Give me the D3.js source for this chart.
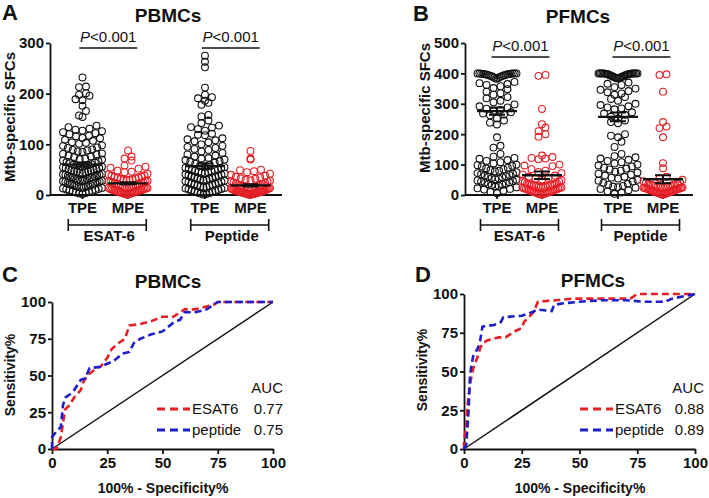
<!DOCTYPE html>
<html><head><meta charset="utf-8">
<script src="https://cdn.jsdelivr.net/npm/d3@7"></script>
<style>
body{margin:0;background:#fff;}
svg{display:block;font-family:"Liberation Sans",Arial,Helvetica,sans-serif;}
</style></head><body>
<svg id="chart" width="709" height="498"></svg>
<script>
// ---------- DATA ----------
const categories = ["TPE","MPE","TPE","MPE"];
const groupLabels = ["ESAT-6","Peptide"];
const pLabel = "<0.001";
const pbmcTicks = [0,100,200,300];
const pfmcTicks = [0,100,200,300,400,500];
const rocTicks = [0,25,50,75,100];

const pbmcTpeEsat = [232,214,213,201,198,196,189,187,176,166,157,154,137,134,131,129,127,126,124,122,120,117,116,113,112,109,107,104,103,101,98,97,94,93,90,89,88,86,85,82,81,80,78,76,75,72,71,70,68,67,65,64,63,61,60,59,58,57,57,56,55,53,53,52,51,50,49,48,47,47,46,45,44,43,42,41,40,40,39,38,37,36,35,35,34,33,32,31,30,30,29,28,27,26,26,25,24,23,22,22,21,20,19,18,18,17,16,15,15,14,13,12,11,10,9,8,7,6,5,4,3,2];
const pbmcMpeEsat = [88,76,72,68,58,56,54,52,48,46,45,42,41,39,38,37,36,35,34,33,32,31,30,30,29,28,27,27,26,25,25,24,23,22,22,21,20,20,19,18,18,17,16,16,15,14,14,13,12,12,11,11,10,10,9,9,8,8,7,7,6,6,5,5,4,4,3,3,2,2,1,1];
const pbmcTpePep = [275,263,252,212,198,193,191,186,182,178,158,155,147,142,137,134,133,130,127,121,119,118,112,110,108,106,104,100,97,95,93,91,89,86,83,80,78,76,73,72,70,69,67,66,64,62,60,58,57,55,54,53,52,51,50,49,48,47,46,45,44,43,42,41,40,39,38,37,36,35,34,33,32,31,30,29,28,27,26,25,24,23,22,21,20,19,18,17,16,15,14,13,12,11,10,9,8,7,6,5,4,3,2,1];
const pbmcMpePep = [87,72,70,50,49,47,45,42,40,38,36,35,33,32,30,29,28,27,26,25,24,23,22,21,20,19,19,18,17,17,16,15,15,14,13,13,12,12,11,11,10,10,9,9,8,8,7,7,7,6,6,6,5,5,5,4,4,4,3,3,3,2,2,2,1,1,1,1];

const pfmcTpeEsat = [400,400,400,400,400,399,399,398,398,397,397,396,395,394,393,392,391,390,388,386,384,382,372,368,365,362,358,352,348,340,335,330,322,318,310,305,298,292,288,284,280,276,272,268,265,262,252,245,238,232,190,162,156,135,126,122,119,115,112,108,104,100,98,96,94,90,88,85,82,80,78,75,72,70,68,66,64,62,60,58,56,54,52,50,48,46,44,42,40,38,36,34,32,30,28,25,22,20,18,14,10,6];
const pfmcMpeEsat = [395,392,283,233,222,210,200,192,130,125,122,120,118,100,97,95,85,80,76,72,68,64,60,57,54,51,48,46,44,42,40,38,37,36,35,34,33,32,31,30,29,28,27,26,25,24,23,22,21,20,19,18,17,16,15,14,13,12,11,10,9,8,7,6,5,4,3,2,1];
const pfmcTpePep = [400,400,400,400,400,400,400,400,400,400,399,399,398,398,397,397,396,395,394,393,392,391,390,389,388,387,386,385,384,383,370,366,362,355,350,346,342,338,334,330,322,316,310,300,296,292,288,285,282,272,268,264,258,252,245,240,236,200,195,190,175,158,135,128,124,120,116,112,108,104,100,97,94,90,87,84,80,77,74,70,67,64,60,57,54,50,47,44,40,37,34,30,28,26,24,20,16,12,8,4];
const pfmcMpePep = [397,395,340,240,225,220,190,105,88,60,55,50,45,42,40,38,36,35,34,33,32,31,30,30,29,28,27,26,25,24,24,23,22,21,20,20,19,18,17,16,15,15,14,13,12,11,10,10,9,8,7,6,5,5,4,3,2,1];

const pbmcMeans = [60,23,57,19];
const pbmcSems = [4,2,5,2];
const pfmcMeans = [276,65,257,52];
const pfmcSems = [12,12,14,13];

const rocPbmcEsat = [[0,0],[2,0],[4,8],[5,18],[6,27],[8,30],[10,35],[13,40],[14,45],[16,50],[20,55],[22,56],[25,62],[27,68],[30,72],[33,75],[35,84],[40,85],[45,87],[50,90],[55,90],[57,92],[60,95],[65,95],[70,97],[73,98],[75,100],[100,100]];
const rocPbmcPep = [[0,0],[0,8],[2,12],[4,15],[5,30],[6,35],[8,37],[10,40],[13,47],[15,48],[17,55],[22,56],[25,58],[28,60],[32,65],[35,66],[37,72],[40,75],[45,78],[50,80],[55,86],[58,88],[60,93],[65,93],[70,95],[72,97],[75,100],[100,100]];
const rocPfmcEsat = [[0,0],[0,5],[1,15],[1.5,27],[2,35],[3,45],[4,52],[6,60],[7,65],[8,68],[10,70],[15,72],[18,72],[22,76],[25,78],[26,82],[28,85],[30,88],[32,95],[40,96],[47,97],[72,97],[75,100],[100,100]];
const rocPfmcPep = [[0,0],[1,3],[2,25],[2.5,45],[3,52],[4,60],[6,65],[7,70],[8,79],[13,80],[16,82],[17,85],[25,86],[27,87],[29,88],[32,90],[38,89],[39,93],[43,94],[50,95],[60,96],[70,96],[78,95],[87,95],[90,97],[100,100]];
const aucNames = ["ESAT6","peptide"];
const aucPbmc = ["0.77","0.75"];
const aucPfmc = ["0.88","0.89"];

// ---------- DRAW ----------
const RED = "#e41f26", BLUE = "#1d1dcc", BLK = "#111";
const svg = d3.select("#chart");

function swarm(values, binSize, maxHalf, dia){
  const bins = d3.group(values, v => Math.ceil(v / binSize));
  const out = [];
  for (const [, arr] of bins){
    const s = arr.slice().sort((a,b)=>a-b);
    const n = s.length;
    const sp = n > 1 ? Math.min(dia, 2*maxHalf/(n-1)) : 0;
    const offs = d3.range(n).map(i => (i-(n-1)/2)*sp);
    offs.sort((a,b)=> Math.abs(a)-Math.abs(b) || a-b);
    s.forEach((v,i)=> out.push({v, dx: offs[i]}));
  }
  return out;
}

function scatterPanel(o){
  const g = svg.append("g");
  const y = d3.scaleLinear().domain([0, o.ticks[o.ticks.length-1]]).range([195, 43]);
  const slots = [0,1,2.69,3.69];
  const x = d3.scaleLinear().domain([0,3.69]).range(o.xr);
  const ax = g.append("g").attr("transform",`translate(${o.ax},0)`)
    .call(d3.axisLeft(y).tickValues(o.ticks).tickSize(4).tickSizeOuter(0).tickPadding(2));
  ax.select(".domain").attr("stroke",BLK).attr("stroke-width",1.8);
  ax.selectAll(".tick line").attr("stroke",BLK).attr("stroke-width",1.8);
  ax.selectAll(".tick text").attr("font-size",15).attr("font-weight","bold").attr("fill",BLK)
    .attr("font-family","Liberation Sans, Arial, sans-serif");
  g.append("line").attr("x1",o.ax).attr("x2",o.axEnd).attr("y1",y(0)).attr("y2",y(0))
    .attr("stroke",BLK).attr("stroke-width",1.8);
  g.selectAll(".xt").data(categories).join("line")
    .attr("x1",(d,i)=>x(slots[i])).attr("x2",(d,i)=>x(slots[i]))
    .attr("y1",y(0)).attr("y2",y(0)+4).attr("stroke",BLK).attr("stroke-width",1.8);
  g.selectAll(".xl").data(categories).join("text")
    .attr("x",(d,i)=>x(slots[i])).attr("y",213).attr("text-anchor","middle")
    .attr("font-size",15).attr("font-weight","bold").attr("fill",BLK).text(d=>d);
  groupLabels.forEach((lab,gi)=>{
    const c = (x(slots[gi*2]) + x(slots[gi*2+1]))/2 + o.bShift;
    g.append("path").attr("d",`M${c-39},219V231M${c-39},225H${c+39}M${c+39},219V231`)
      .attr("stroke",BLK).attr("stroke-width",1.6).attr("fill","none");
    g.append("text").attr("x",c+o.gShift).attr("y",241).attr("text-anchor","middle")
      .attr("font-size",15).attr("font-weight","bold").attr("fill",BLK).text(lab);
    const pc = c + 1;
    g.append("line").attr("x1",pc-29).attr("x2",pc+29).attr("y1",o.pLine).attr("y2",o.pLine)
      .attr("stroke",BLK).attr("stroke-width",1.6);
    const t = g.append("text").attr("x",pc).attr("y",o.pLine-6).attr("text-anchor","middle")
      .attr("font-size",15).attr("fill",BLK);
    t.append("tspan").attr("font-style","italic").text("P");
    t.append("tspan").text(pLabel);
  });
  o.series.forEach((vals,i)=>{
    const col = i%2===0 ? BLK : RED;
    const pts = swarm(vals, o.bin, 19.5, 7);
    g.append("g").selectAll("circle").data(pts).join("circle")
      .attr("cx",d=>x(slots[i])+d.dx).attr("cy",d=>y(d.v)).attr("r",3.4)
      .attr("fill","none").attr("stroke",col).attr("stroke-width",1.1);
  });
  o.means.forEach((m,i)=>{
    const cx = x(slots[i]), s = o.sems[i];
    g.append("line").attr("x1",cx-20).attr("x2",cx+20).attr("y1",y(m)).attr("y2",y(m))
      .attr("stroke",BLK).attr("stroke-width",2.4);
    g.append("path").attr("d",`M${cx},${y(m-s)}V${y(m+s)}M${cx-8},${y(m-s)}H${cx+8}M${cx-8},${y(m+s)}H${cx+8}`)
      .attr("stroke",BLK).attr("stroke-width",2).attr("fill","none");
  });
  g.append("text").attr("transform",`translate(${o.ytx},${o.yty}) rotate(-90)`)
    .attr("text-anchor","middle").attr("font-size",15).attr("font-weight","bold").attr("fill",BLK)
    .text("Mtb-specific SFCs");
  g.append("text").attr("x",o.tx).attr("y",o.ty).attr("text-anchor","middle")
    .attr("font-size",19).attr("font-weight","bold").attr("fill",BLK).text(o.title);
  g.append("text").attr("x",o.lx).attr("y",o.ly)
    .attr("font-size",22).attr("font-weight","bold").attr("fill",BLK).text(o.letter);
}

scatterPanel({ticks:pbmcTicks, xr:[82.5,250.5], ax:50, axEnd:282, bin:14, bShift:2, gShift:2, pLine:48,
  series:[pbmcTpeEsat,pbmcMpeEsat,pbmcTpePep,pbmcMpePep], means:pbmcMeans, sems:pbmcSems,
  ytx:15, yty:117, tx:168, ty:22, title:"PBMCs", lx:2, ly:20, letter:"A"});
scatterPanel({ticks:pfmcTicks, xr:[497,663], ax:465, axEnd:693, bin:25, bShift:0, gShift:0, pLine:57,
  series:[pfmcTpeEsat,pfmcMpeEsat,pfmcTpePep,pfmcMpePep], means:pfmcMeans, sems:pfmcSems,
  ytx:430, yty:108, tx:578, ty:23, title:"PFMCs", lx:413, ly:21, letter:"B"});

function rocPanel(o){
  const g = svg.append("g");
  const x = d3.scaleLinear().domain([0,100]).range(o.xr);
  const y = d3.scaleLinear().domain([0,100]).range(o.yr);
  const ay = g.append("g").attr("transform",`translate(${o.xr[0]},0)`)
    .call(d3.axisLeft(y).tickValues(rocTicks).tickSize(4).tickSizeOuter(0).tickPadding(2));
  const axx = g.append("g").attr("transform",`translate(0,${o.yr[0]})`)
    .call(d3.axisBottom(x).tickValues(rocTicks).tickSize(5).tickSizeOuter(0).tickPadding(3));
  [ay,axx].forEach(a=>{
    a.select(".domain").attr("stroke",BLK).attr("stroke-width",1.8);
    a.selectAll(".tick line").attr("stroke",BLK).attr("stroke-width",1.8);
    a.selectAll(".tick text").attr("font-size",15).attr("font-weight","bold").attr("fill",BLK)
      .attr("font-family","Liberation Sans, Arial, sans-serif");
  });
  g.append("line").attr("x1",x(0)).attr("y1",y(0)).attr("x2",x(100)).attr("y2",y(100))
    .attr("stroke",BLK).attr("stroke-width",1.5);
  const line = d3.line().x(d=>x(d[0])).y(d=>y(d[1]));
  [[o.esat,RED],[o.pep,BLUE]].forEach(([d,c])=>{
    g.append("path").attr("d",line(d)).attr("fill","none").attr("stroke",c)
      .attr("stroke-width",2.6).attr("stroke-dasharray","7,4");
  });
  g.append("text").attr("x",o.aucX).attr("y",o.legY).attr("text-anchor","end")
    .attr("font-size",15).attr("fill",BLK).text("AUC");
  [RED,BLUE].forEach((c,i)=>{
    const yy = o.legY + 21 + i*21;
    g.append("line").attr("x1",o.sx).attr("x2",o.sx+33).attr("y1",yy-5).attr("y2",yy-5)
      .attr("stroke",c).attr("stroke-width",3).attr("stroke-dasharray","8,5");
    g.append("text").attr("x",o.sx+35).attr("y",yy).attr("font-size",15).attr("fill",BLK).text(aucNames[i]);
    g.append("text").attr("x",o.aucX).attr("y",yy).attr("text-anchor","end")
      .attr("font-size",15).attr("fill",BLK).text(o.auc[i]);
  });
  g.append("text").attr("transform",`translate(${o.ytx},${o.yty}) rotate(-90)`)
    .attr("text-anchor","middle").attr("font-size",14).attr("font-weight","bold").attr("fill",BLK)
    .text("Sensitivity%");
  g.append("text").attr("x",o.xtx).attr("y",493).attr("text-anchor","middle")
    .attr("font-size",14).attr("font-weight","bold").attr("fill",BLK).text("100% - Specificity%");
  g.append("text").attr("x",o.tx).attr("y",o.ty).attr("text-anchor","middle")
    .attr("font-size",19).attr("font-weight","bold").attr("fill",BLK).text(o.title);
  g.append("text").attr("x",o.lx).attr("y",o.ly)
    .attr("font-size",22).attr("font-weight","bold").attr("fill",BLK).text(o.letter);
}

rocPanel({xr:[52,273], yr:[449,302], esat:rocPbmcEsat, pep:rocPbmcPep, auc:aucPbmc,
  aucX:283, legY:393, sx:157, ytx:15, yty:375, xtx:163, tx:168, ty:288, title:"PBMCs", lx:2, ly:282, letter:"C"});
rocPanel({xr:[464,695], yr:[449,294], esat:rocPfmcEsat, pep:rocPfmcPep, auc:aucPfmc,
  aucX:704, legY:393, sx:580, ytx:427, yty:370, xtx:580, tx:593, ty:287, title:"PFMCs", lx:415, ly:282, letter:"D"});
</script>
</body></html>
